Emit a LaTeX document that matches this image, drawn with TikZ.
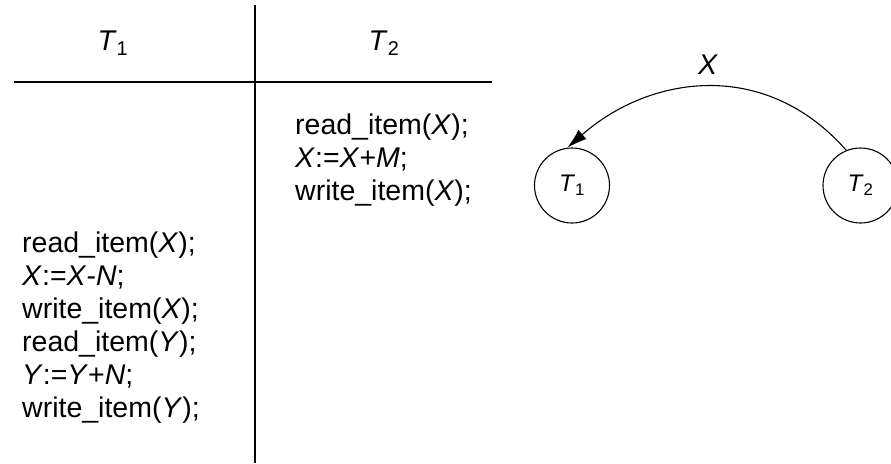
\documentclass[tikz,border=0pt]{standalone}
\usepackage{fontspec}
\setmainfont{Liberation Sans}
\usetikzlibrary{arrows.meta}
\newcommand{\vv}[1]{\textit{#1}}
\begin{document}
\begin{tikzpicture}[x=1pt,y=-1pt,
  rule/.style={line width=1.6pt},
  txt/.style={inner sep=0pt,font=\fontsize{28.5}{33}\selectfont},
  code/.style={txt,anchor=base west},
  tnode/.style={circle,draw,line width=1.1pt,minimum size=75pt,inner sep=0pt,font=\fontsize{24}{26}\selectfont},
  edge/.style={line width=1.1pt,-{Latex[length=20pt,width=12pt]}}]
\useasboundingbox (0,0) rectangle (891,463);
% table
\coordinate (vtop) at (255,5);
\coordinate (vbot) at (255,463);
\coordinate (hl) at (14,82);
\coordinate (hr) at (492,82);
\draw[rule] (vtop) -- (vbot);
\draw[rule] (hl) -- (hr);
\node[txt,anchor=base] (h1) at (113,50) {\vv{T}\textsubscript{1}};
\node[txt,anchor=base] (h2) at (384,50) {\vv{T}\textsubscript{2}};
% T2 column
\node[code] (r1) at (295,134) {read\_item(\vv{X});};
\node[code] (r2) at (295,167) {\vv{X}:=\vv{X}+\vv{M};};
\node[code] (r3) at (295,200) {write\_item(\vv{X});};
% T1 column
\node[code] (l1) at (22,252) {read\_item(\vv{X});};
\node[code] (l2) at (22,285) {\vv{X}:=\vv{X}-\vv{N};};
\node[code] (l3) at (22,318) {write\_item(\vv{X});};
\node[code] (l4) at (22,351) {read\_item(\vv{Y});};
\node[code] (l5) at (22,384) {\vv{Y}:=\vv{Y}+\vv{N};};
\node[code] (l6) at (22,417) {write\_item(\vv{Y});};
% graph
\node[tnode] (t1) at (572,185.5) {\vv{T}\textsubscript{1}};
\node[tnode] (t2) at (860.5,185.5) {\vv{T}\textsubscript{2}};
\coordinate (k1) at (765,58);
\coordinate (k2) at (650,75);
\draw[edge] (t2.112) .. controls (k1) and (k2) .. (t1.97);
\node[txt] (lx) at (708,65) {\vv{X}};
\end{tikzpicture}
\end{document}
